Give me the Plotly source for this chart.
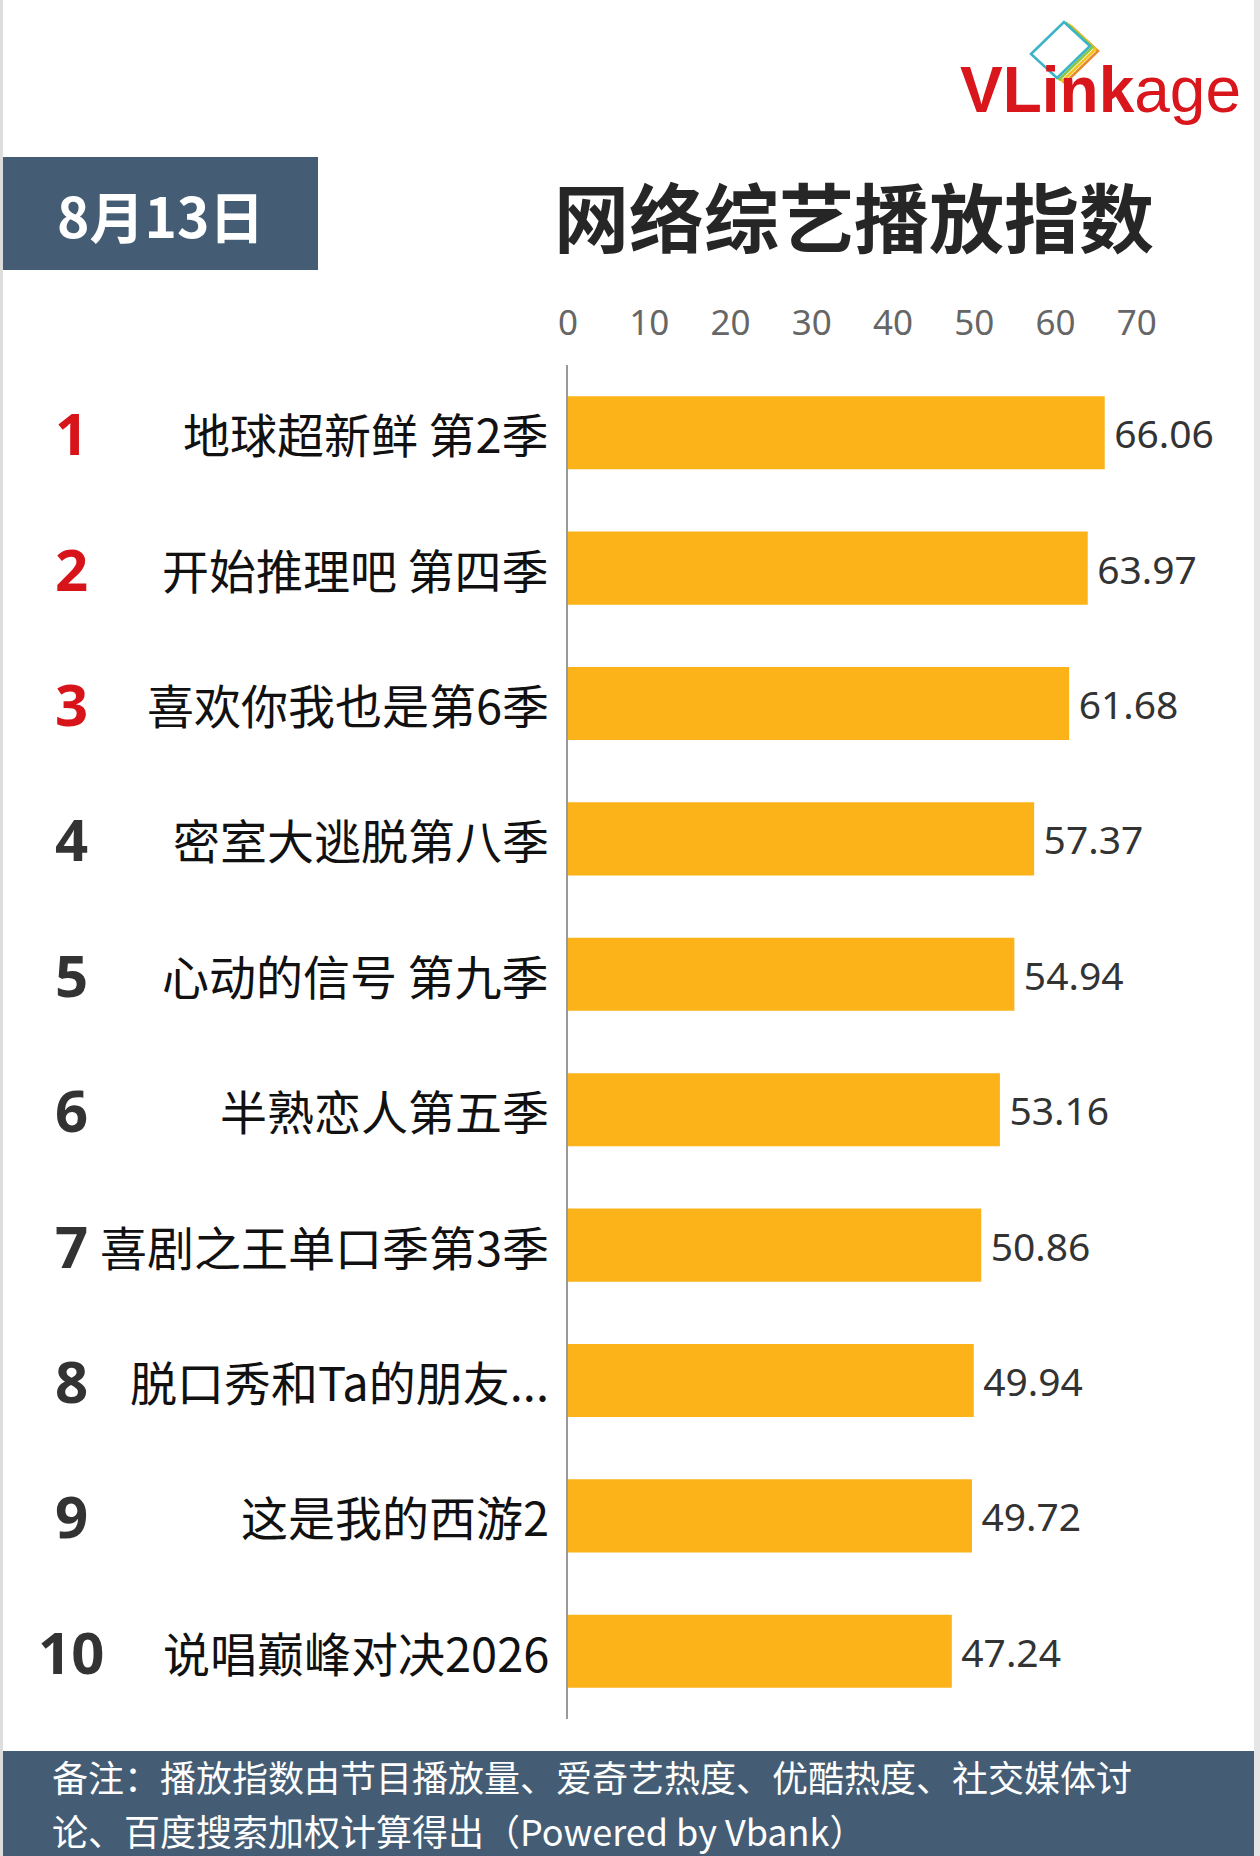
import plotly.graph_objects as go

W, H = 1260, 1856

ranks = ["1", "2", "3", "4", "5", "6", "7", "8", "9", "10"]
shows = ["地球超新鲜 第2季", "开始推理吧 第四季", "喜欢你我也是第6季", "密室大逃脱第八季",
         "心动的信号 第九季", "半熟恋人第五季", "喜剧之王单口季第3季", "脱口秀和Ta的朋友...",
         "这是我的西游2", "说唱巅峰对决2026"]
values = [66.06, 63.97, 61.68, 57.37, 54.94, 53.16, 50.86, 49.94, 49.72, 47.24]
x_ticks = [0, 10, 20, 30, 40, 50, 60, 70]

date_text = "8月13日"
title_text = "网络综艺播放指数"
note_lines = ["备注：播放指数由节目播放量、爱奇艺热度、优酷热度、社交媒体讨",
              "论、百度搜索加权计算得出（Powered by Vbank）"]

BAR = "#FCB31A"
BOX = "#445D75"
RED = "#D7141A"
CJK = "Noto Sans CJK SC"


def px(x):
    return x / W


def py(y):
    return 1 - y / H


plot_left, plot_right = 568, 1218
plot_top, plot_bottom = 365, 1719

fig = go.Figure()
fig.add_trace(go.Bar(
    x=values, y=shows, orientation="h", width=0.54,
    marker=dict(color=BAR, line=dict(width=0)),
    texttemplate="\u2009%{x:.2f}", textposition="outside", constraintext="none",
    cliponaxis=False,
    textfont=dict(family="Noto Sans", size=39, color="#333333"),
    hoverinfo="skip",
))

annotations = []
for i, (r, s) in enumerate(zip(ranks, shows)):
    annotations.append(dict(
        x=px(71), xref="paper", y=s, yref="y", text="<b>" + r + "</b>",
        showarrow=False, xanchor="center", yanchor="middle",
        font=dict(family="Noto Sans", size=58, color=RED if i < 3 else "#333333"),
    ))
    annotations.append(dict(
        x=px(551), xref="paper", y=s, yref="y", text=s,
        showarrow=False, xanchor="right", yanchor="middle",
        font=dict(family=CJK, size=47, color="#111111"),
    ))

annotations += [
    dict(x=px(160), y=py(214), xref="paper", yref="paper", text="<b>" + date_text + "</b>",
         showarrow=False, xanchor="center", yanchor="middle",
         font=dict(family="Noto Sans CJK SC", size=55, color="white")),
    dict(x=px(854), y=py(214), xref="paper", yref="paper", text="<b>" + title_text + "</b>",
         showarrow=False, xanchor="center", yanchor="middle",
         font=dict(family=CJK, size=75, color="#262626")),
    dict(x=px(958), y=py(90), xref="paper", yref="paper", text="<b>VLink</b>age",
         showarrow=False, xanchor="left", yanchor="middle",
         font=dict(family="Liberation Sans", size=64, color="#D9161C")),
]
for line, yy in zip(note_lines, [1776, 1829.5]):
    annotations.append(dict(
        x=px(50), y=py(yy), xref="paper", yref="paper", text=line,
        showarrow=False, xanchor="left", yanchor="middle", align="left",
        font=dict(family=CJK, size=36, color="white")))


def rect(x0, y0, x1, y1, color):
    return dict(type="rect", xref="paper", yref="paper", x0=px(x0), x1=px(x1),
                y0=py(y1), y1=py(y0), fillcolor=color, line=dict(width=0), layer="below")


def card(dx, dy, color):
    pts = [(1031 + dx, 54 + dy), (1064 + dx, 22 + dy), (1090 + dx, 46 + dy), (1057 + dx, 78 + dy)]
    path = "M " + " L ".join(f"{px(x):.5f},{py(y):.5f}" for x, y in pts) + " Z"
    return dict(type="path", xref="paper", yref="paper", path=path,
                fillcolor="white", line=dict(color=color, width=2.5), layer="above")


shapes = [
    rect(0, 0, 3, H, "#DDDDDD"),
    rect(1254, 0, W, H, "#E6E6E6"),
    rect(3, 157, 318, 270, BOX),
    rect(3, 1751, 1254, H, BOX),
    card(8, 5, "#E8892B"),
    card(5.5, 3, "#F2C318"),
    card(2.5, 1.2, "#8DC63F"),
    card(0, 0, "#3BB3C8"),
]

fig.update_layout(
    width=W, height=H,
    margin=dict(l=0, r=0, t=0, b=0),
    paper_bgcolor="white", plot_bgcolor="white",
    showlegend=False,
    bargap=0.46,
    xaxis=dict(
        domain=[px(plot_left), px(plot_right)], range=[0, 80],
        side="top", tickvals=x_ticks, ticktext=[str(t) for t in x_ticks],
        showgrid=False, zeroline=False, showline=False, ticks="",
        ticklabelstandoff=22,
        tickfont=dict(family="Noto Sans", size=35, color="#666666"),
        automargin=False, fixedrange=True,
    ),
    yaxis=dict(
        domain=[py(plot_bottom), py(plot_top)],
        categoryorder="array", categoryarray=shows, autorange="reversed",
        showticklabels=False, showgrid=False, zeroline=False,
        showline=True, linecolor="#999999", linewidth=2, ticks="",
        automargin=False, fixedrange=True,
    ),
    annotations=annotations,
    shapes=shapes,
)

fig.write_html("out.html", config={"displayModeBar": False},
               post_script="document.body.style.margin='0px';document.body.style.overflow='hidden';")
